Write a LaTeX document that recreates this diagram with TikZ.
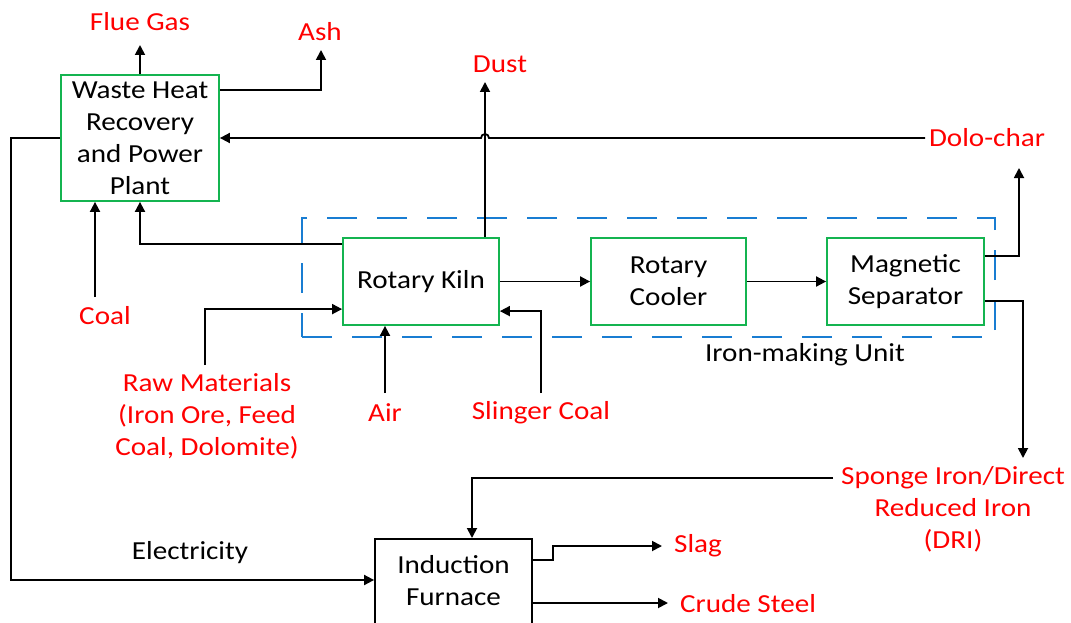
\documentclass[tikz,border=0pt]{standalone}
\usepackage{fontspec}
\setmainfont{Carlito}[FakeStretch=1.12]
\usetikzlibrary{arrows.meta}
\definecolor{boxgreen}{RGB}{20,180,80}
\definecolor{dashblue}{RGB}{25,125,210}
\definecolor{lblred}{RGB}{255,0,0}
\tikzset{
  every node/.style={font=\fontsize{26}{32}\selectfont, inner sep=0pt},
  proc/.style={draw=boxgreen, line width=1.8pt, align=center},
  furnbox/.style={draw=black, line width=1.8pt},
  lbl/.style={text=lblred, align=center},
  blk/.style={text=black, align=center},
  conn/.style={line width=1.8pt, -{Triangle[length=10pt,width=10pt]}},
  unitbox/.style={draw=dashblue, line width=1.8pt, dash pattern=on 30pt off 20pt},
}
\begin{document}
\begin{tikzpicture}[x=1pt,y=-1pt]
\useasboundingbox (0,0) rectangle (1071,623);
% process boxes
\node[unitbox, minimum width=693, minimum height=119] (unit) at (648.5,277.5) {};
\node[proc, minimum width=158, minimum height=126] (whr) at (140,138) {Waste Heat\\Recovery\\and Power\\Plant};
\node[proc, minimum width=156, minimum height=87] (kiln) at (421,281.5) {Rotary Kiln};
\node[proc, minimum width=155, minimum height=87] (cool) at (668.5,281.5) {Rotary\\Cooler};
\node[proc, minimum width=157, minimum height=87] (sep) at (905.5,281.5) {Magnetic\\Separator};
\node[furnbox, minimum width=157, minimum height=122, anchor=north] (furn) at (453.5,538) {};
\node[blk] (furntxt) at (453.5,581) {Induction\\Furnace};
% labels
\node[lbl] (flue) at (140,22) {Flue Gas};
\node[lbl] (ash) at (320,32) {Ash};
\node[lbl] (dust) at (500,64) {Dust};
\node[lbl] (dolo) at (987,138) {Dolo-char};
\node[lbl] (coal) at (105,316) {Coal};
\node[lbl] (raw) at (207,416) {Raw Materials\\(Iron Ore, Feed\\Coal, Dolomite)};
\node[lbl] (air) at (385,413) {Air};
\node[lbl] (sling) at (541,413) {Slinger Coal};
\node[blk] (unitlbl) at (805,355) {Iron-making Unit};
\node[lbl] (sponge) at (953,509) {Sponge Iron/Direct\\Reduced Iron\\(DRI)};
\node[blk] (elec) at (190,553) {Electricity};
\node[lbl] (slag) at (698,546) {Slag};
\node[lbl] (crude) at (748,604) {Crude Steel};
% free ends
\coordinate (flueT) at (140,45);
\coordinate (ashT) at (321,50);
\coordinate (dustT) at (485,82);
\coordinate (doloS) at (925,138);
\coordinate (coalS) at (95,297);
\coordinate (doloT) at (1019,168);
\coordinate (spongeT) at (1023,458);
\coordinate (spongeS) at (833,478);
\coordinate (rawS) at (205,365);
\coordinate (airS) at (385,393);
\coordinate (slingS) at (541,393);
\coordinate (slagT) at (662,546);
\coordinate (crudeT) at (668,603);
% connectors
\draw[conn] (whr.north) -- (flueT);
\draw[conn] ([yshift=-16pt]whr.north east) -| (ashT);
\draw[conn] (doloS) -- (489,138) arc[start angle=0, end angle=180, radius=4pt] -- (whr.east);
\draw[conn] (whr.west) -- ++(-49,0) |- ([yshift=-42pt]furn.north west);
\draw[conn] (coalS) -- (coalS |- whr.south);
\draw[conn] ([yshift=-7pt]kiln.north west) -| (whr.south);
\draw[conn] ([xshift=64pt]kiln.north) -- (dustT);
\draw[conn] (kiln.east) -- (cool.west);
\draw[conn] (cool.east) -- (sep.west);
\draw[conn] ([yshift=-19pt]sep.north east) -| (doloT);
\draw[conn] ([yshift=-64pt]sep.north east) -| (spongeT);
\draw[conn] (spongeS) -| ([xshift=18.5pt]furn.north);
\draw[conn] (rawS) |- ([yshift=-72pt]kiln.north west);
\draw[conn] (airS) -- (airS |- kiln.south);
\draw[conn] (slingS) |- ([yshift=-74pt]kiln.north east);
\draw[conn] ([yshift=-22pt]furn.north east) -- ++(20,0) |- (slagT);
\draw[conn] ([yshift=-65pt]furn.north east) -- (crudeT);
\end{tikzpicture}
\end{document}
